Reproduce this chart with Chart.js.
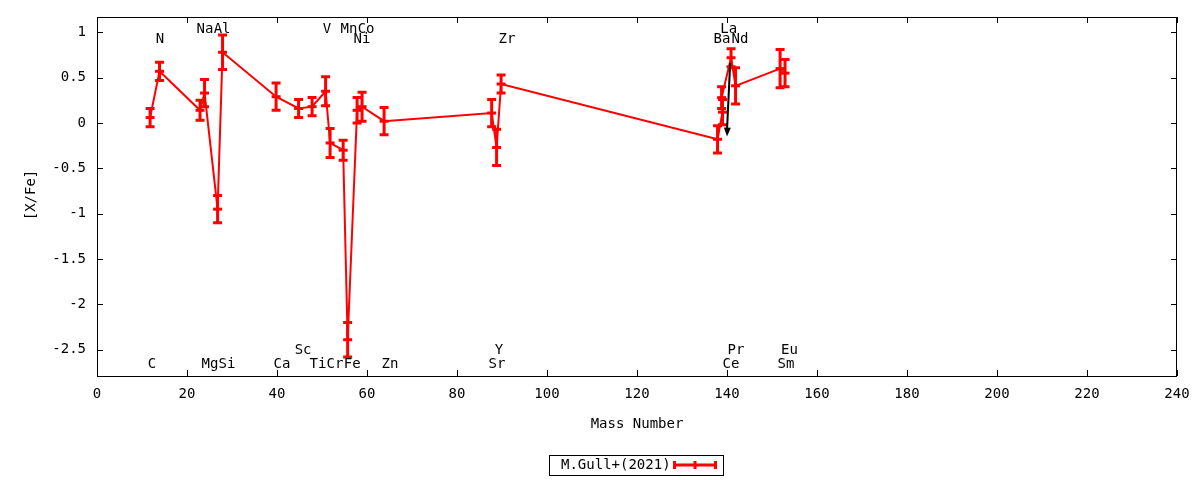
<!DOCTYPE html>
<html><head><meta charset="utf-8">
<script src="https://cdn.jsdelivr.net/npm/chart.js@4/dist/chart.umd.min.js"></script>
<style>html,body{margin:0;padding:0;background:#fff}#wrap{width:1200px;height:480px}</style>
</head><body><div id="wrap"><canvas id="c" width="1200" height="480"></canvas></div>
<script>
// ---- data ----
const seriesName = 'M.Gull+(2021)';
const massNumbers = [11.8, 13.9, 22.9, 23.9, 26.8, 27.9, 39.8, 44.8, 47.8, 50.8, 51.8, 54.7, 55.7, 57.8, 58.9, 63.8, 87.7, 88.8, 89.8, 137.9, 139.0, 138.8, 140.9, 141.9, 151.8, 152.9];
const abundances  = [0.06, 0.57, 0.14, 0.33, -0.95, 0.78, 0.29, 0.16, 0.18, 0.35, -0.22, -0.30, -2.39, 0.14, 0.18, 0.02, 0.11, -0.27, 0.43, -0.18, 0.12, 0.28, 0.72, 0.41, 0.60, 0.55];
const abundErrors = [0.10, 0.10, 0.11, 0.15, 0.15, 0.19, 0.15, 0.10, 0.10, 0.16, 0.16, 0.11, 0.19, 0.14, 0.16, 0.15, 0.15, 0.20, 0.10, 0.15, 0.14, 0.12, 0.10, 0.20, 0.21, 0.15];

const elementNames  = ['N', 'Na', 'Al', 'V', 'Mn', 'Co', 'Ni', 'Zr', 'La', 'Ba', 'Nd',
                       'C', 'Mg', 'Si', 'Ca', 'Sc', 'Ti', 'Cr', 'Fe', 'Zn', 'Y', 'Sr', 'Pr', 'Ce', 'Eu', 'Sm'];
const elementLabelX = [14.0, 24.0, 27.8, 51.1, 56.0, 59.8, 58.9, 91.1, 140.4, 138.9, 142.9,
                       12.2, 25.1, 28.9, 41.1, 45.8, 49.1, 52.9, 56.7, 65.1, 89.3, 88.9, 142.0, 140.9, 153.9, 153.1];
const elementLabelY = [0.92, 1.03, 1.03, 1.03, 1.03, 1.03, 0.92, 0.92, 1.03, 0.92, 0.92,
                       -2.665, -2.665, -2.665, -2.665, -2.51, -2.665, -2.665, -2.665, -2.665, -2.51, -2.665, -2.51, -2.665, -2.51, -2.665];

const arrowFrom = [140.7, 0.66];
const arrowTo   = [140.0, -0.15];

const xTickValues = [0, 20, 40, 60, 80, 100, 120, 140, 160, 180, 200, 220, 240];
const yTickValues = [-2.5, -2, -1.5, -1, -0.5, 0, 0.5, 1];
const xTitle = 'Mass Number';
const yTitle = '[X/Fe]';

// ---- chart ----
const RED = '#ff0000';
const FONT = 'DejaVu Sans Mono';
const points = massNumbers.map((m, i) => ({x: m, y: abundances[i]}));

const decor = {
  id: 'decor',
  beforeDatasetsDraw(chart) {
    const {ctx, scales: {x, y}, chartArea: a} = chart;
    ctx.save();
    ctx.beginPath(); ctx.rect(a.left, a.top, a.right - a.left, a.bottom - a.top); ctx.clip();
    ctx.strokeStyle = RED; ctx.lineWidth = 3; ctx.lineCap = 'butt';
    massNumbers.forEach((m, i) => {
      const px = x.getPixelForValue(m);
      const y1 = y.getPixelForValue(abundances[i] + abundErrors[i]);
      const y2 = y.getPixelForValue(abundances[i] - abundErrors[i]);
      ctx.beginPath();
      ctx.moveTo(px, y1); ctx.lineTo(px, y2);
      ctx.moveTo(px - 4.5, y1); ctx.lineTo(px + 4.5, y1);
      ctx.moveTo(px - 4.5, y2); ctx.lineTo(px + 4.5, y2);
      ctx.stroke();
    });
    ctx.restore();
  },
  afterDraw(chart) {
    const {ctx, scales: {x, y}, chartArea: a} = chart;
    ctx.save();
    // border
    ctx.strokeStyle = '#000'; ctx.lineWidth = 1;
    ctx.strokeRect(Math.round(a.left) + 0.5, Math.round(a.top) + 0.5, Math.round(a.right - a.left) - 1, Math.round(a.bottom - a.top));
    // inward ticks (mirrored)
    ctx.beginPath();
    xTickValues.forEach(v => {
      const px = Math.round(x.getPixelForValue(v)) + 0.5;
      ctx.moveTo(px, a.bottom); ctx.lineTo(px, a.bottom - 6);
      ctx.moveTo(px, a.top); ctx.lineTo(px, a.top + 6);
    });
    yTickValues.forEach(v => {
      const py = Math.round(y.getPixelForValue(v)) + 0.5;
      ctx.moveTo(a.left, py); ctx.lineTo(a.left + 6, py);
      ctx.moveTo(a.right, py); ctx.lineTo(a.right - 6, py);
    });
    ctx.stroke();

    // element labels
    ctx.fillStyle = '#000';
    ctx.font = '14px "' + FONT + '"';
    ctx.textAlign = 'center'; ctx.textBaseline = 'middle';
    elementNames.forEach((n, i) => {
      ctx.fillText(n, x.getPixelForValue(elementLabelX[i]), y.getPixelForValue(elementLabelY[i]));
    });

    // arrow
    const ax1 = x.getPixelForValue(arrowFrom[0]), ay1 = y.getPixelForValue(arrowFrom[1]);
    const ax2 = x.getPixelForValue(arrowTo[0]), ay2 = y.getPixelForValue(arrowTo[1]);
    ctx.strokeStyle = '#000'; ctx.lineWidth = 2;
    ctx.beginPath(); ctx.moveTo(ax1, ay1); ctx.lineTo(ax2, ay2 - 6); ctx.stroke();
    const ang = Math.atan2(ay2 - ay1, ax2 - ax1);
    ctx.beginPath();
    ctx.moveTo(ax2, ay2);
    ctx.lineTo(ax2 - 9 * Math.cos(ang) + 3.5 * Math.sin(ang), ay2 - 9 * Math.sin(ang) - 3.5 * Math.cos(ang));
    ctx.lineTo(ax2 - 9 * Math.cos(ang) - 3.5 * Math.sin(ang), ay2 - 9 * Math.sin(ang) + 3.5 * Math.cos(ang));
    ctx.closePath(); ctx.fillStyle = '#000'; ctx.fill();

    // axis titles
    ctx.font = '14px "' + FONT + '"';
    ctx.fillStyle = '#000';
    ctx.fillText(xTitle, (a.left + a.right) / 2, 424);
    ctx.save();
    ctx.translate(31, 195); ctx.rotate(-Math.PI / 2);
    ctx.fillText(yTitle, 0, 0);
    ctx.restore();

    // legend
    ctx.strokeStyle = '#000'; ctx.lineWidth = 1;
    ctx.strokeRect(549.5, 455.5, 174, 20);
    ctx.textAlign = 'left';
    ctx.fillText(seriesName, 561, 465.5);
    ctx.strokeStyle = RED; ctx.lineWidth = 3;
    ctx.beginPath();
    ctx.moveTo(673, 465); ctx.lineTo(717, 465);
    ctx.moveTo(674.5, 461); ctx.lineTo(674.5, 469);
    ctx.moveTo(715.5, 461); ctx.lineTo(715.5, 469);
    ctx.moveTo(695, 461); ctx.lineTo(695, 469);
    ctx.stroke();
    ctx.restore();
  }
};

new Chart(document.getElementById('c'), {
  type: 'line',
  data: {
    datasets: [{
      label: seriesName,
      data: points,
      borderColor: RED,
      backgroundColor: RED,
      borderWidth: 2,
      tension: 0,
      pointStyle: 'line',
      pointRadius: 4.5,
      pointBorderWidth: 3,
      pointBorderColor: RED,
      pointHoverRadius: 4.5
    }]
  },
  options: {
    responsive: false,
    animation: false,
    devicePixelRatio: 1,
    events: [],
    layout: {padding: {top: 17, right: 23, left: 0, bottom: 0}},
    plugins: {legend: {display: false}, tooltip: {enabled: false}},
    scales: {
      x: {
        type: 'linear', min: 0, max: 240,
        afterFit(s) { s.height = 104; s.paddingLeft = 0; s.paddingRight = 0; },
        grid: {display: false, drawTicks: false},
        border: {display: false},
        ticks: {stepSize: 20, padding: 10, color: '#000', maxRotation: 0, font: {family: FONT, size: 14},
                callback: v => String(v)}
      },
      y: {
        type: 'linear', min: -2.79, max: 1.169,
        afterFit(s) { s.width = 97; s.paddingTop = 0; s.paddingBottom = 0; },
        grid: {display: false, drawTicks: false},
        border: {display: false},
        ticks: {stepSize: 0.5, includeBounds: false, padding: 11, color: '#000', font: {family: FONT, size: 14},
                callback: v => String(Number(v.toFixed(1)))}
      }
    }
  },
  plugins: [decor]
});
</script>
</body></html>
